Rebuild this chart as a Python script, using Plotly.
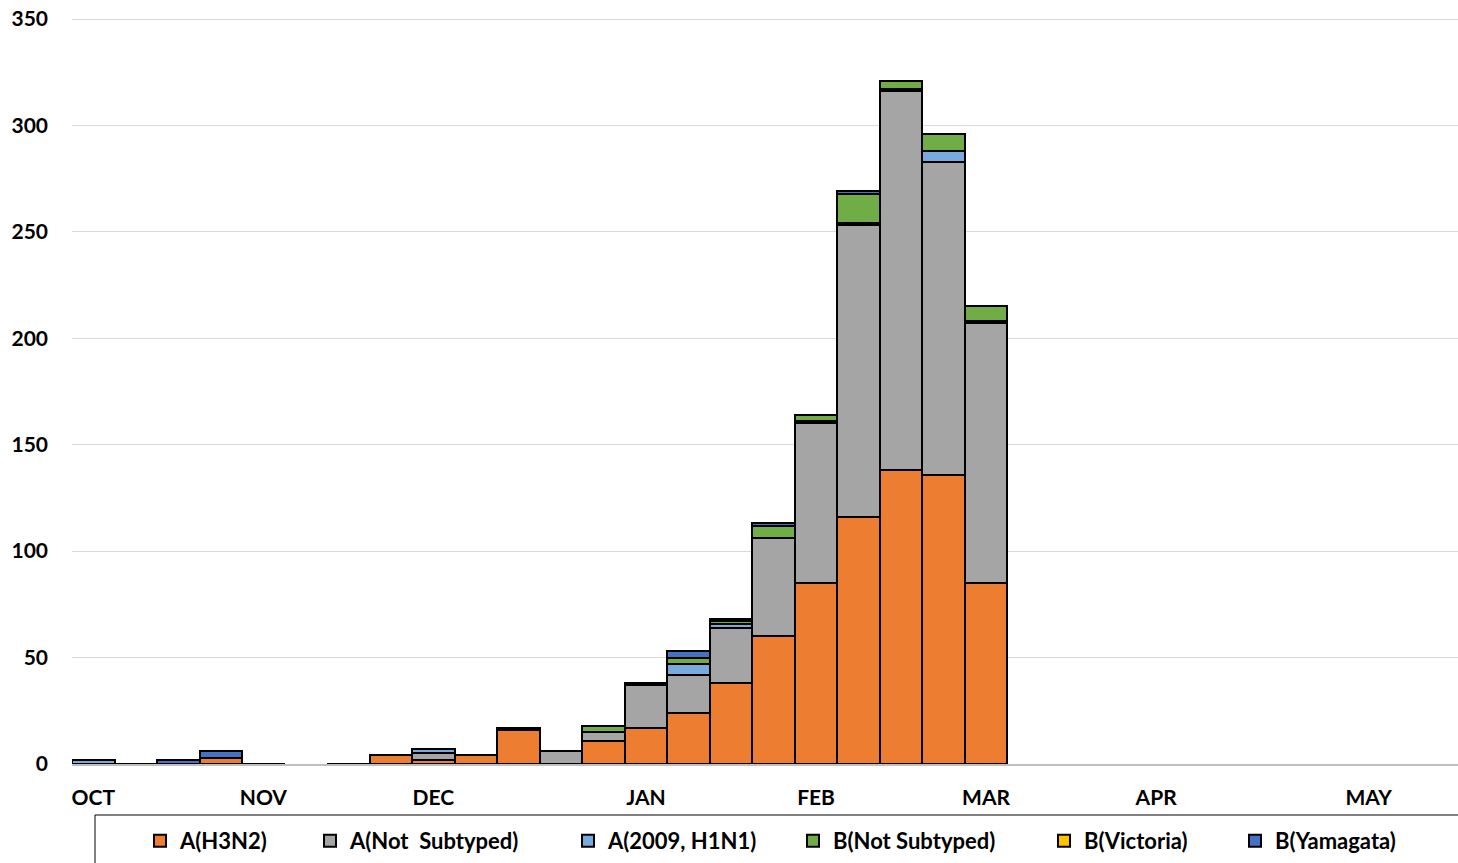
import plotly.graph_objects as go

# ---- data ----
week_index = list(range(22))
month_ticks = [0, 4, 8, 13, 17, 21, 25, 30]
month_labels = ["OCT", "NOV", "DEC", "JAN", "FEB", "MAR", "APR", "MAY"]

a_h3n2 = [0, 0, 0, 3, 0, None, 0, 4, 2, 4, 16, 0, 11, 17, 24, 38, 60, 85, 116, 138, 136, 85]
a_not_subtyped = [0, 0, 0, 0, 0, None, 0, 0, 3, 0, 0, 6, 4, 20, 18, 26, 46, 75, 137, 178, 147, 122]
a_h1n1 = [2, 0, 0, 0, 0, None, 0, 0, 2, 0, 0, 0, 0, 0, 5, 2, 0, 1, 1, 1, 5, 1]
b_not_subtyped = [0, 0, 0, 0, 0, None, 0, 0, 0, 0, 1, 0, 3, 1, 3, 1, 6, 3, 14, 4, 8, 7]
b_victoria = [0, 0, 0, 0, 0, None, 0, 0, 0, 0, 0, 0, 0, 0, 0, 1, 0, 0, 0, 0, 0, 0]
b_yamagata = [0, 0, 2, 3, 0, None, 0, 0, 0, 0, 0, 0, 0, 0, 3, 0, 1, 0, 1, 0, 0, 0]

series_names = ["A(H3N2)", "A(Not  Subtyped)", "A(2009, H1N1)", "B(Not Subtyped)", "B(Victoria)", "B(Yamagata)"]
series_values = [a_h3n2, a_not_subtyped, a_h1n1, b_not_subtyped, b_victoria, b_yamagata]
series_colors = ["#ED7D31", "#A5A5A5", "#79AADD", "#70AD47", "#FFC000", "#4472C4"]

# ---- layout geometry (page pixels; body margin removed below) ----
W, H = 1458, 863
PLOT_L, PLOT_R, PLOT_T, PLOT_B = 72, 1458, 17, 764
Y_TOP_PX = 19  # where 350 sits
ML = PLOT_L
MT = PLOT_T
MR = W - PLOT_R
MB = H - PLOT_B
PW = PLOT_R - PLOT_L
PH = PLOT_B - PLOT_T
Y_MAX = 350 * PH / (PLOT_B - Y_TOP_PX)
legend_text_px = [180, 350, 608, 833, 1084, 1275]

FONT = "Lato"


def px_x(p):
    return (p - PLOT_L) / PW


def px_y(p):
    return (PLOT_B - p) / PH


fig = go.Figure()
legend_keys = ["legend", "legend2", "legend3", "legend4", "legend5", "legend6"]
for name, vals, col, lk in zip(series_names, series_values, series_colors, legend_keys):
    fig.add_trace(go.Bar(
        x=week_index, y=vals, name=name,
        marker=dict(color=col, line=dict(color="black", width=2)),
        legend=lk,
    ))

layout_legends = {}
for lk, px in zip(legend_keys, legend_text_px):
    layout_legends[lk] = dict(
        x=px_x(px - 40), xanchor="left",
        y=px_y(820), yanchor="top",
        orientation="h", bgcolor="rgba(0,0,0,0)", borderwidth=0,
        font=dict(family=FONT, size=22, color="black", weight="bold"),
    )

fig.update_layout(
    width=W, height=H,
    margin=dict(l=ML, r=MR, t=MT, b=MB),
    barmode="stack", bargap=0,
    plot_bgcolor="white", paper_bgcolor="white",
    font=dict(family=FONT, size=21, color="black", weight="bold"),
    showlegend=True,
    **layout_legends,
)

fig.update_xaxes(
    range=[-0.5, 32.1],
    tickmode="array", tickvals=month_ticks, ticktext=month_labels,
    showgrid=False, zeroline=False,
    showline=True, linecolor="#BFBFBF", linewidth=1.8,
    ticks="", ticklabelstandoff=14,
    tickfont=dict(family=FONT, size=21, color="black", weight="bold"),
)
fig.update_yaxes(
    range=[0, Y_MAX], tickmode="array", tickvals=[0, 50, 100, 150, 200, 250, 300, 350],
    showgrid=True, gridcolor="#D9D9D9", gridwidth=1.3,
    zeroline=False, showline=False, ticks="",
    ticklabelstandoff=23, ticklabeloverflow="allow",
    tickfont=dict(family=FONT, size=21, color="black", weight="bold"),
)

# legend frame (cut by the bottom of the page, as in the reference)
fig.add_shape(
    type="rect", xref="paper", yref="paper",
    x0=px_x(95), x1=1.05,
    y0=px_y(815), y1=px_y(900),
    line=dict(color="black", width=1), fillcolor="rgba(0,0,0,0)",
)

fig.write_html(
    "out.html",
    config={"displayModeBar": False},
    post_script="document.body.style.margin='0px';document.body.style.overflow='hidden';",
)
